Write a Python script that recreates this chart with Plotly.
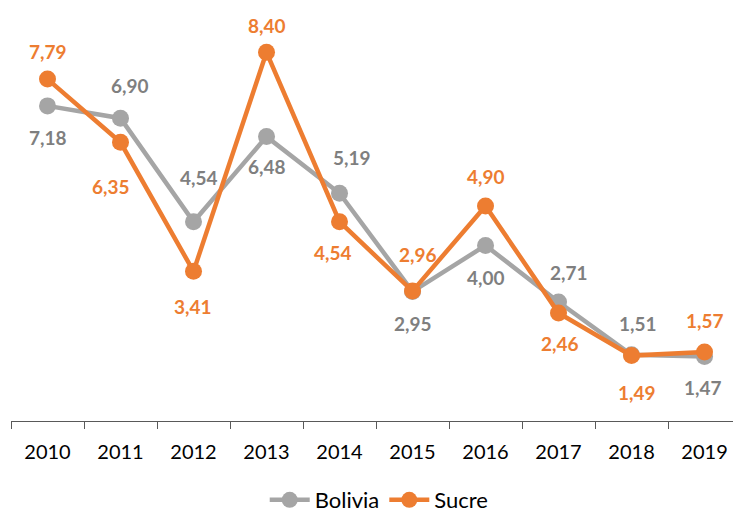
import plotly.graph_objects as go

years = ["2010", "2011", "2012", "2013", "2014", "2015", "2016", "2017", "2018", "2019"]
bolivia = [7.18, 6.90, 4.54, 6.48, 5.19, 2.95, 4.00, 2.71, 1.51, 1.47]
sucre = [7.79, 6.35, 3.41, 8.40, 4.54, 2.96, 4.90, 2.46, 1.49, 1.57]

# label offsets in pixels relative to each marker (layout only, positive dy = above)
bolivia_dx = [0, 9, 5, 0, 12, 0, 0, 10, 6, -2]
bolivia_dy = [-32, 33, 44, -30, 36, -32, -32, 30, 31, -31]
sucre_dx = [0, -10, -1, 0, -7, 5, 0, 1, 5, 0]
sucre_dy = [28, -44, -35, 27, -31, 37, 29, -30, -37, 32]

GRAY = "#A5A5A5"
GRAY_TXT = "#7F7F7F"
ORANGE = "#ED7D31"
FONT = "Lato"

fig = go.Figure()
fig.add_trace(go.Scatter(x=years, y=bolivia, name="Bolivia", mode="lines+markers",
                         line=dict(color=GRAY, width=4.5), marker=dict(color=GRAY, size=17)))
fig.add_trace(go.Scatter(x=years, y=sucre, name="Sucre", mode="lines+markers",
                         line=dict(color=ORANGE, width=4.5), marker=dict(color=ORANGE, size=17)))

def fmt(v):
    return f"{v:.2f}".replace(".", ",")

for vals, dxs, dys, col in [(bolivia, bolivia_dx, bolivia_dy, GRAY_TXT),
                            (sucre, sucre_dx, sucre_dy, ORANGE)]:
    for i, (v, dx, dy) in enumerate(zip(vals, dxs, dys)):
        fig.add_annotation(x=i, y=v, xref="x", yref="y", text=f"<b>{fmt(v)}</b>",
                           showarrow=False, xshift=dx, yshift=dy,
                           font=dict(family=FONT, size=19, color=col))

fig.update_layout(
    width=733, height=515,
    margin=dict(l=11, r=0, t=26, b=94, autoexpand=False),
    plot_bgcolor="white", paper_bgcolor="white",
    font=dict(family=FONT, size=16, color="#000000"),
    showlegend=True,
    legend=dict(orientation="h", x=0.51, xanchor="center", y=-0.2, yanchor="middle",
                font=dict(family=FONT, size=22, color="#000000"), itemwidth=40,
                traceorder="normal"),
)
fig.update_xaxes(type="category", range=[-0.5, 9.39], showline=True, linecolor="#595959",
                 linewidth=1, ticks="outside", tickson="boundaries", ticklen=7,
                 tickcolor="#595959", showgrid=False, ticklabelstandoff=13,
                 tickfont=dict(family=FONT, size=20, color="#000000"))
fig.update_yaxes(range=[0, 9], visible=False, showgrid=False, zeroline=False)

fig.write_html("out.html", config={"displayModeBar": False},
               post_script="document.body.style.margin='0';")
